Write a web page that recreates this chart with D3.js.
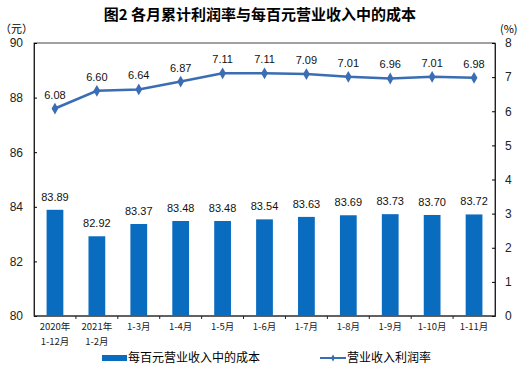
<!DOCTYPE html>
<html>
<head>
<meta charset="utf-8">
<script src="https://cdn.jsdelivr.net/npm/d3@7"></script>
<style>
  body { margin: 0; background: #fff; }
  svg { display: block; font-family: "Liberation Sans", Arial, sans-serif; }
  .cjk { font-family: "Noto Sans CJK SC", sans-serif; }
</style>
</head>
<body>
<script>
var categories = [['2020年', '1-12月'], ['2021年', '1-2月'], ['1-3月'], ['1-4月'], ['1-5月'], ['1-6月'], ['1-7月'], ['1-8月'], ['1-9月'], ['1-10月'], ['1-11月']];
var costValues = [83.89, 82.92, 83.37, 83.48, 83.48, 83.54, 83.63, 83.69, 83.73, 83.70, 83.72];
var profitRate = [6.08, 6.60, 6.64, 6.87, 7.11, 7.11, 7.09, 7.01, 6.96, 7.01, 6.98];
var leftTicks = [80, 82, 84, 86, 88, 90];
var rightTicks = [0, 1, 2, 3, 4, 5, 6, 7, 8];

(function() {
    var width = 523, height = 376,
        pLeft = 34, pRight = 495, pTop = 43, pBottom = 316,
        barColor = '#0a6cbf', lineColor = '#3a6db3';

    var svg = d3.select('body').append('svg')
        .attr('width', width)
        .attr('height', height);

    var xScale = d3.scaleBand()
        .domain(d3.range(categories.length))
        .range([pLeft, pRight])
        .paddingInner(0.6)
        .paddingOuter(0.3);

    var yLeft = d3.scaleLinear().domain([80, 90]).range([pBottom, pTop]);
    var yRight = d3.scaleLinear().domain([0, 8]).range([pBottom, pTop]);
    var cx = function(d, i) { return xScale(i) + xScale.bandwidth() / 2; };

    // title
    svg.append('text')
        .attr('class', 'cjk')
        .attr('x', 260)
        .attr('y', 20)
        .attr('text-anchor', 'middle')
        .style('font-size', '15px')
        .style('font-weight', 'bold')
        .text('图2  各月累计利润率与每百元营业收入中的成本');

    svg.append('text').attr('class', 'cjk')
        .attr('x', 0).attr('y', 33)
        .style('font-size', '11px')
        .text('（元）');
    svg.append('text').attr('class', 'cjk')
        .attr('x', 500).attr('y', 33)
        .style('font-size', '11px')
        .text('(%)');

    // plot frame
    svg.append('rect')
        .attr('x', pLeft).attr('y', pTop)
        .attr('width', pRight - pLeft).attr('height', pBottom - pTop)
        .attr('fill', 'none')
        .attr('stroke', '#444')
        .attr('stroke-width', 1);

    // left axis
    svg.append('g')
        .attr('transform', 'translate(' + pLeft + ',0)')
        .call(d3.axisLeft(yLeft).tickValues(leftTicks).tickSize(-3).tickPadding(11))
        .call(function(g) {
            g.select('.domain').attr('stroke', '#222');
            g.selectAll('text').style('font-size', '12px').attr('fill', '#222');
        });

    // right axis
    svg.append('g')
        .attr('transform', 'translate(' + pRight + ',0)')
        .call(d3.axisRight(yRight).tickValues(rightTicks).tickSize(-3).tickPadding(10))
        .call(function(g) {
            g.select('.domain').attr('stroke', '#222');
            g.selectAll('text').style('font-size', '12px').attr('fill', '#222');
        });

    // x axis: ticks between categories
    var xAxis = svg.append('g');
    xAxis.append('line')
        .attr('x1', pLeft).attr('x2', pRight)
        .attr('y1', pBottom).attr('y2', pBottom)
        .attr('stroke', '#222');
    xAxis.selectAll('.xtick')
        .data(d3.range(1, categories.length))
        .enter().append('line')
        .attr('x1', function(i) { return pLeft + (pRight - pLeft) * i / categories.length; })
        .attr('x2', function(i) { return pLeft + (pRight - pLeft) * i / categories.length; })
        .attr('y1', pBottom).attr('y2', pBottom + 3)
        .attr('stroke', '#222');

    var xLabels = xAxis.selectAll('.xlabel')
        .data(categories)
        .enter().append('text')
        .attr('class', 'cjk')
        .attr('text-anchor', 'middle')
        .style('font-size', '9.5px')
        .attr('fill', '#222')
        .attr('transform', function(d, i) {
            return 'translate(' + cx(d, i) + ',' + (pBottom + 14) + ')';
        });
    xLabels.selectAll('tspan')
        .data(function(d) { return d; })
        .enter().append('tspan')
        .attr('x', 0)
        .attr('dy', function(d, j) { return j === 0 ? 0 : 15; })
        .text(function(d) { return d; });

    // bars
    svg.append('g').selectAll('rect')
        .data(costValues)
        .enter().append('rect')
        .attr('x', function(d, i) { return xScale(i); })
        .attr('y', function(d) { return yLeft(d); })
        .attr('width', xScale.bandwidth())
        .attr('height', function(d) { return pBottom - yLeft(d); })
        .attr('fill', barColor);

    svg.append('g').selectAll('text')
        .data(costValues)
        .enter().append('text')
        .attr('x', cx)
        .attr('y', function(d) { return yLeft(d) - 9; })
        .attr('text-anchor', 'middle')
        .style('font-size', '11px')
        .attr('fill', '#111')
        .text(function(d) { return d.toFixed(2); });

    // line
    var line = d3.line()
        .x(cx)
        .y(function(d) { return yRight(d); });

    svg.append('path')
        .datum(profitRate)
        .attr('d', line)
        .attr('fill', 'none')
        .attr('stroke', lineColor)
        .attr('stroke-width', 2.5);

    svg.append('g').selectAll('path')
        .data(profitRate)
        .enter().append('path')
        .attr('d', d3.symbol().type(d3.symbolDiamond).size(40))
        .attr('transform', function(d, i) {
            return 'translate(' + cx(d, i) + ',' + yRight(d) + ')';
        })
        .attr('fill', lineColor);

    svg.append('g').selectAll('text')
        .data(profitRate)
        .enter().append('text')
        .attr('x', cx)
        .attr('y', function(d) { return yRight(d) - 10; })
        .attr('text-anchor', 'middle')
        .style('font-size', '11px')
        .attr('fill', '#111')
        .text(function(d) { return d.toFixed(2); });

    // legend
    var legend = svg.append('g');
    legend.append('rect')
        .attr('x', 102).attr('y', 355)
        .attr('width', 25).attr('height', 6)
        .attr('fill', barColor);
    legend.append('text').attr('class', 'cjk')
        .attr('x', 128).attr('y', 362)
        .style('font-size', '12px')
        .text('每百元营业收入中的成本');
    legend.append('line')
        .attr('x1', 320).attr('x2', 346)
        .attr('y1', 358).attr('y2', 358)
        .attr('stroke', lineColor).attr('stroke-width', 2);
    legend.append('path')
        .attr('d', d3.symbol().type(d3.symbolDiamond).size(14))
        .attr('transform', 'translate(333,358)')
        .attr('fill', lineColor);
    legend.append('text').attr('class', 'cjk')
        .attr('x', 347).attr('y', 362)
        .style('font-size', '12px')
        .text('营业收入利润率');
})();
</script>
</body>
</html>
